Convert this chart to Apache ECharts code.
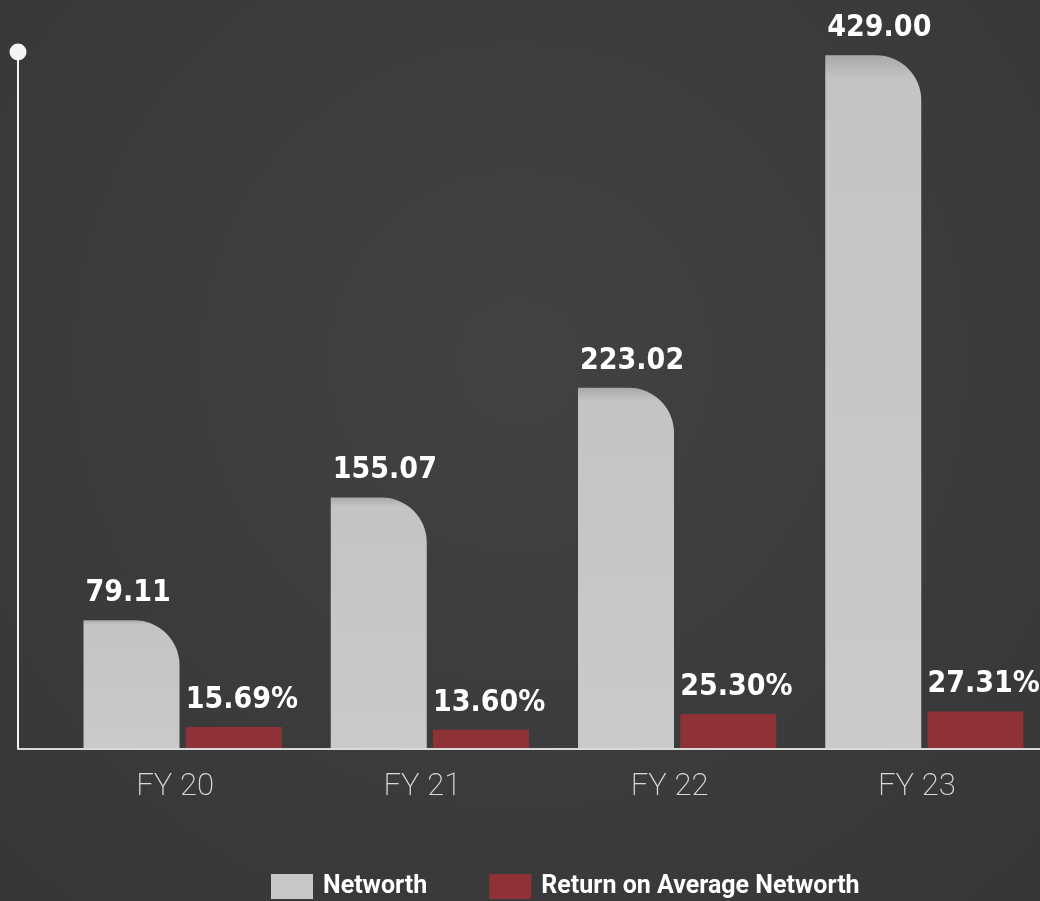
<!DOCTYPE html>
<html>
<head>
<meta charset="utf-8">
<script src="https://cdn.jsdelivr.net/npm/echarts@6/dist/echarts.min.js"></script>
<style>
  html, body { margin: 0; padding: 0; background: #3b3b3b; }
  #chart { width: 1040px; height: 901px; }
</style>
</head>
<body>
<div id="chart"></div>
<script>
const categories = ['FY 20', 'FY 21', 'FY 22', 'FY 23'];
const networth = [79.11, 155.07, 223.02, 429.00];
const returnOnAvgNetworth = [15.69, 13.60, 25.30, 27.31];
const seriesNames = ['Networth', 'Return on Average Networth'];

const valueFont = '"DejaVu Sans Condensed", "DejaVu Sans", sans-serif';
const chart = echarts.init(document.getElementById('chart'), null, { renderer: 'canvas' });

const labelBase = {
  show: true,
  position: 'top',
  distance: 12,
  align: 'left',
  offset: [-46, 0],
  color: '#ffffff',
  fontSize: 30,
  fontWeight: 'bold',
  fontFamily: valueFont
};

chart.setOption({
  animation: false,
  backgroundColor: {
    type: 'radial', x: 0.5, y: 0.4, r: 0.85,
    colorStops: [{ offset: 0, color: '#424242' }, { offset: 1, color: '#363636' }]
  },
  grid: [
    { left: 59, width: 989, top: 52, bottom: 153, outerBoundsMode: 'none', containLabel: false },
    { left: 18, right: 0, top: 52, bottom: 152.5, outerBoundsMode: 'none', containLabel: false }
  ],
  legend: {
    left: 266,
    top: 869,
    icon: 'rect',
    itemWidth: 42,
    itemHeight: 25,
    itemGap: 62,
    textStyle: { color: '#ffffff', fontSize: 25, fontWeight: 'bold', fontFamily: 'Roboto, sans-serif', padding: [0, 0, 0, 5] },
    data: [
      { name: seriesNames[0], itemStyle: { color: '#c8c8c8' } },
      { name: seriesNames[1], itemStyle: { color: '#8e3237' } }
    ]
  },
  xAxis: [
    {
      type: 'category', gridIndex: 0, data: categories,
      axisLine: { show: false }, axisTick: { show: false }, splitLine: { show: false },
      axisLabel: {
        margin: 24, color: '#dadada', fontSize: 31, fontWeight: 200,
        fontFamily: 'Roboto, sans-serif', padding: [0, 15, 0, 0]
      }
    },
    {
      type: 'value', gridIndex: 1, min: 0, max: 1,
      axisLine: { show: true, lineStyle: { color: '#d9d9d9', width: 2 } },
      axisTick: { show: false }, axisLabel: { show: false }, splitLine: { show: false }
    }
  ],
  yAxis: [
    { type: 'value', gridIndex: 0, min: 0, max: 431, show: false },
    { type: 'value', gridIndex: 0, min: 0, max: 519, show: false },
    {
      type: 'value', gridIndex: 1, min: 0, max: 1,
      axisLine: {
        show: true, symbol: ['none', 'circle'], symbolSize: [17, 17],
        lineStyle: { color: '#f4f4f4', width: 2 }
      },
      axisTick: { show: false }, axisLabel: { show: false }, splitLine: { show: false }
    }
  ],
  series: [
    {
      name: seriesNames[0],
      type: 'bar',
      xAxisIndex: 0, yAxisIndex: 0,
      data: networth,
      barWidth: 96,
      barGap: '6.5%',
      itemStyle: {
        borderRadius: [0, 45, 0, 0],
        color: {
          type: 'linear', x: 0, y: 0, x2: 0, y2: 1,
          colorStops: [
            { offset: 0, color: '#a9a9a9' },
            { offset: 0.035, color: '#c4c4c4' },
            { offset: 1, color: '#cacaca' }
          ]
        }
      },
      label: Object.assign({}, labelBase, { formatter: p => p.value.toFixed(2) })
    },
    {
      name: seriesNames[1],
      type: 'bar',
      xAxisIndex: 0, yAxisIndex: 1,
      data: returnOnAvgNetworth,
      barWidth: 96,
      itemStyle: { color: '#8e3237' },
      label: Object.assign({}, labelBase, { offset: [-48, 0], formatter: p => p.value.toFixed(2) + '%' })
    }
  ]
});
</script>
</body>
</html>
